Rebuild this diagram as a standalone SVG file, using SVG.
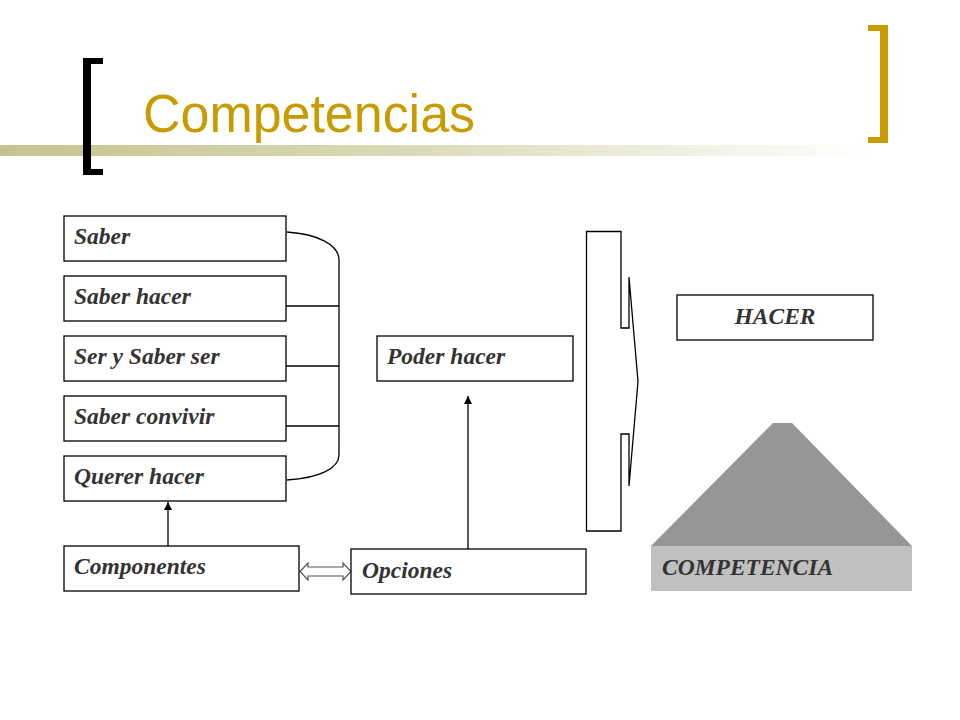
<svg xmlns="http://www.w3.org/2000/svg" width="960" height="720" viewBox="0 0 960 720">
<defs>
<linearGradient id="band" x1="0" y1="0" x2="1" y2="0">
<stop offset="0" stop-color="#c4c48f"/>
<stop offset="0.45" stop-color="#d9d9b5"/>
<stop offset="1" stop-color="#ffffff"/>
</linearGradient>
<marker id="ah" viewBox="0 0 10 10" refX="10" refY="5" markerWidth="8" markerHeight="10" markerUnits="userSpaceOnUse" orient="auto">
<path d="M0,0 L10,5 L0,10 z" fill="#000"/>
</marker>
<style>
.box{fill:#fff;stroke:#000;stroke-width:1.3}
.lbl{font-family:"Liberation Serif","Times New Roman",serif;font-weight:bold;font-style:italic;font-size:23.5px;fill:#333}
.ln{fill:none;stroke:#000;stroke-width:1.3}
</style>
</defs>
<rect width="960" height="720" fill="#fff"/>
<g id="title">
<rect x="0" y="145" width="870" height="11" fill="url(#band)"/>
<path d="M103,58 H83 V175 H103 V169 H91 V64 H103 z" fill="#000"/>
<path d="M868,25 H888 V143 H868 V137 H880 V31 H868 z" fill="#c89c00"/>
<text x="143" y="132" font-family="'Liberation Sans',Arial,sans-serif" font-size="53" textLength="332" lengthAdjust="spacingAndGlyphs" fill="#c89c00">Competencias</text>
</g>
<g id="connectors">
<path class="ln" d="M287,232 C318,234 339,245 339,260 V455 C339,468 320,478 287,480"/>
<line class="ln" x1="286" y1="306" x2="339" y2="306"/>
<line class="ln" x1="286" y1="366" x2="339" y2="366"/>
<line class="ln" x1="286" y1="426" x2="339" y2="426"/>
<line class="ln" x1="168" y1="546" x2="168" y2="502" marker-end="url(#ah)"/>
<line class="ln" x1="468" y1="549" x2="468" y2="396" marker-end="url(#ah)"/>
<path d="M300,571.5 L308,563 V567 H343 V563 L351,571.5 L343,580 V576 H308 V580 z" fill="#fff" stroke="#555" stroke-width="1.2"/>
</g>
<g id="n-saber"><rect class="box" x="64" y="216" width="222" height="45"/><text class="lbl" x="74" y="244">Saber</text></g>
<g id="n-saber-hacer"><rect class="box" x="64" y="276" width="222" height="45"/><text class="lbl" x="74" y="304">Saber hacer</text></g>
<g id="n-ser"><rect class="box" x="64" y="336" width="222" height="45"/><text class="lbl" x="74" y="364">Ser y Saber ser</text></g>
<g id="n-convivir"><rect class="box" x="64" y="396" width="222" height="45"/><text class="lbl" x="74" y="424">Saber convivir</text></g>
<g id="n-querer"><rect class="box" x="64" y="456" width="222" height="45"/><text class="lbl" x="74" y="484">Querer hacer</text></g>
<g id="n-componentes"><rect class="box" x="64" y="546" width="235" height="45"/><text class="lbl" x="74" y="574">Componentes</text></g>
<g id="n-poder"><rect class="box" x="377" y="336" width="196" height="45"/><text class="lbl" x="387" y="364">Poder hacer</text></g>
<g id="n-opciones"><rect class="box" x="351" y="549" width="235" height="45"/><text class="lbl" x="362" y="578">Opciones</text></g>
<g id="n-bracket">
<path d="M586.5,231.5 H621 V328 H629 V277 L638,381.5 L629,486 V434 H621 V531 H586.5 z" fill="#fff" stroke="#000" stroke-width="1.3" stroke-linejoin="miter"/>
</g>
<g id="n-hacer"><rect class="box" x="677" y="295" width="196" height="45"/><text class="lbl" x="775" y="324" text-anchor="middle">HACER</text></g>
<g id="n-competencia">
<path d="M773,423 H792 L912,546 H651 z" fill="#969696"/>
<rect x="651" y="546" width="261" height="45" fill="#c0c0c0"/>
<text class="lbl" x="662" y="575">COMPETENCIA</text>
</g>
</svg>
